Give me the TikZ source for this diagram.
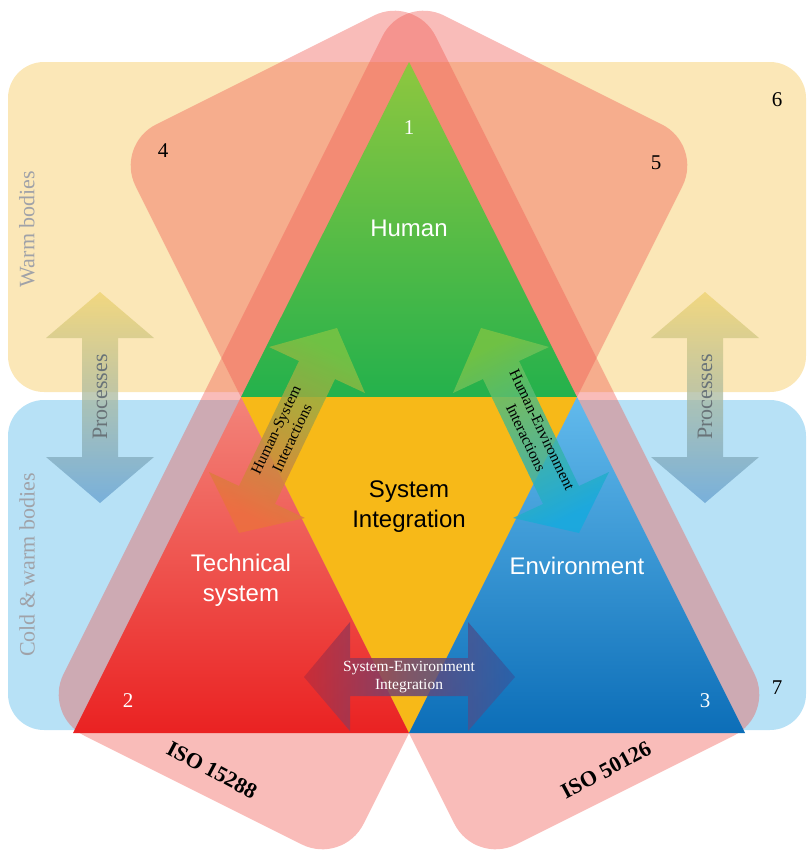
\documentclass[tikz,border=0pt]{standalone}
\usepackage{fontspec}
\setmainfont{Liberation Serif}
\setsansfont{Liberation Sans}
\usetikzlibrary{shadings}
\definecolor{cream}{RGB}{251,231,183}
\definecolor{lightblue}{RGB}{183,225,246}
\definecolor{isored}{RGB}{240,88,80}
\definecolor{greenA}{RGB}{142,199,63}
\definecolor{greenB}{RGB}{36,177,76}
\definecolor{sysyellow}{RGB}{247,185,24}
\definecolor{redA}{RGB}{243,132,122}
\definecolor{redB}{RGB}{234,34,34}
\definecolor{blueA}{RGB}{98,186,236}
\definecolor{blueB}{RGB}{12,110,184}
\definecolor{procY}{RGB}{238,210,110}
\definecolor{procB}{RGB}{100,160,210}
\definecolor{graytext}{RGB}{160,162,168}
\definecolor{proctext}{RGB}{105,115,120}
\definecolor{hsGreen}{RGB}{122,196,68}
\definecolor{hsOrange}{RGB}{236,112,62}
\definecolor{heCyan}{RGB}{22,170,222}
\definecolor{seRed}{RGB}{196,44,56}
\definecolor{seBlue}{RGB}{44,94,166}
\definecolor{sePurple}{RGB}{106,70,118}
\begin{document}
\begin{tikzpicture}[x=1pt,y=-1pt,
  zonebox/.style={rounded corners=36pt},
  isoshape/.style={fill=isored, fill opacity=0.4, rounded corners=46pt},
  procarrow/.style={top color=procY, bottom color=procB, fill opacity=0.75},
  num/.style={font=\fontsize{21}{21}\selectfont},
  whitenum/.style={num, text=white},
  bigsans/.style={font=\sffamily\fontsize{24}{30}\selectfont, align=center},
  zonelabel/.style={font=\fontsize{22}{22}\selectfont, text=graytext, rotate=90},
  proclabel/.style={font=\fontsize{22}{22}\selectfont, text=proctext, rotate=90},
  arrowlabel/.style={font=\fontsize{15.5}{18}\selectfont, align=center, inner sep=1pt},
  isolabel/.style={font=\bfseries\fontsize{22}{22}\selectfont}
]
\path[use as bounding box] (0,0) rectangle (807,855);
\begin{scope}
\clip (0,0) rectangle (807,855);
% zones
\fill[cream, zonebox] (8,62) rectangle (806,392);
\fill[lightblue, zonebox] (8,400) rectangle (806,730);
% ISO shapes
\fill[isoshape] (403,-5) -- (703,145) -- (343,865) -- (43,715) -- cycle;
\fill[isoshape] (415,-5) -- (115,145) -- (475,865) -- (775,715) -- cycle;
% triangles
\shade[top color=greenA, bottom color=greenB] (409,62) -- (577,397) -- (241,397) -- cycle;
\fill[sysyellow] (241,397) -- (577,397) -- (409,733) -- cycle;
\shade[top color=redA, bottom color=redB] (241,397) -- (409,733) -- (73,733) -- cycle;
\shade[top color=blueA, bottom color=blueB] (577,397) -- (745,733) -- (409,733) -- cycle;
% process arrows
\path[procarrow] (100,292) -- (154,338) -- (118,338) -- (118,457) -- (154,457) -- (100,503) -- (46,457) -- (82,457) -- (82,338) -- (46,338) -- cycle;
\path[procarrow] (705,292) -- (759,338) -- (723,338) -- (723,457) -- (759,457) -- (705,503) -- (651,457) -- (687,457) -- (687,338) -- (651,338) -- cycle;
% interaction arrows
\path[top color=hsGreen, bottom color=hsOrange, shading angle=-26, fill opacity=0.85]
  (337,328) -- (365,393) -- (335,379) -- (275,504) -- (305,518) -- (239,533) -- (209,472) -- (239,486) -- (299,361) -- (269,347) -- cycle;
\path[top color=hsGreen, bottom color=heCyan, shading angle=26, fill opacity=0.85]
  (481,328) -- (549,347) -- (519,361) -- (579,486) -- (609,472) -- (579,533) -- (513,518) -- (543,504) -- (483,379) -- (453,393) -- cycle;
\path[left color=seRed, right color=seBlue, middle color=sePurple, fill opacity=0.85]
  (304,677) -- (350,622) -- (350,658) -- (468,658) -- (468,622) -- (515,677) -- (468,731) -- (468,696) -- (350,696) -- (350,731) -- cycle;
\end{scope}
% labels
\node[whitenum] (n1) at (409,128) {1};
\node[whitenum] (n2) at (128,701) {2};
\node[whitenum] (n3) at (705,701) {3};
\node[num] (n4) at (163,151) {4};
\node[num] (n5) at (656,163) {5};
\node[num] (n6) at (777,100) {6};
\node[num] (n7) at (777,688) {7};
\node[bigsans, text=white] (human) at (409,228) {Human};
\node[bigsans] (sysint) at (409,507) {System\\Integration};
\node[bigsans, text=white] (tech) at (241,580) {Technical\\system};
\node[bigsans, text=white] (env) at (577,566) {Environment};
\node[zonelabel] (warm) at (27,229) {Warm bodies};
\node[zonelabel] (cold) at (27,565) {Cold \& warm bodies};
\node[proclabel] (procL) at (100,397) {Processes};
\node[proclabel] (procR) at (705,397) {Processes};
\node[arrowlabel, rotate=64.4] (hs) at (284,434) {Human-System\\Interactions};
\node[arrowlabel, rotate=-64.4] (he) at (534,434) {Human-Environment\\Interactions};
\node[arrowlabel, text=white] (se) at (409,677) {System-Environment\\Integration};
\node[isolabel, rotate=-28] (iso1) at (212,770) {ISO 15288};
\node[isolabel, rotate=28] (iso2) at (606,770) {ISO 50126};
\end{tikzpicture}
\end{document}
